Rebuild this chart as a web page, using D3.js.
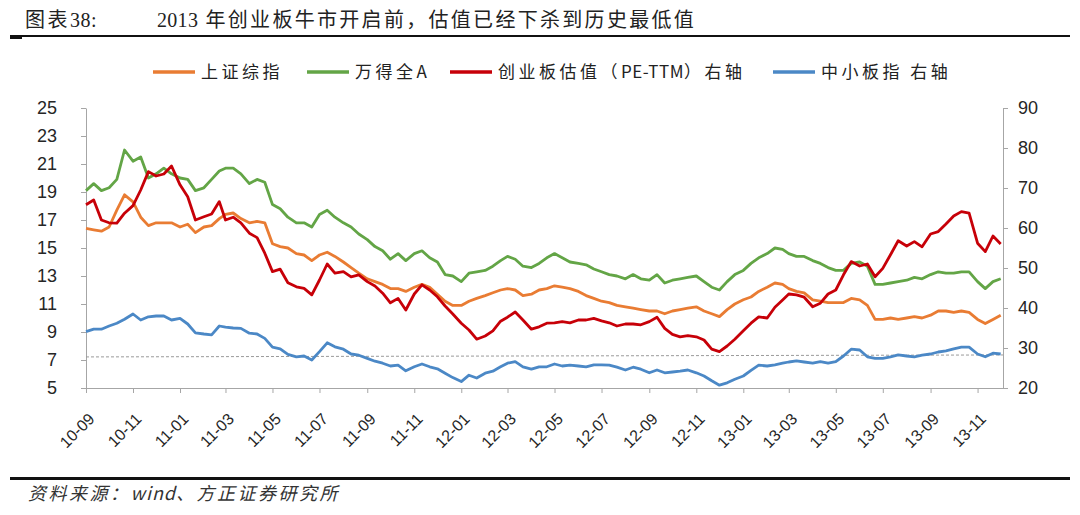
<!DOCTYPE html>
<html>
<head>
<meta charset="utf-8">
<script src="https://cdn.jsdelivr.net/npm/d3@7"></script>
<style>
  body { margin: 0; background: #fff; }
  svg text { font-family: "Liberation Sans", Arial, sans-serif; }
</style>
</head>
<body>
<svg id="chart" width="1080" height="515"></svg>
<script>
// ----------------------------------
// 1) Data (~10-day samples)
// ----------------------------------
const sampleDays = [1, 11, 21];
const dates = d3.timeMonth.range(new Date(2010, 8, 1), new Date(2013, 11, 1))
  .flatMap(m => sampleDays.map(d => new Date(m.getFullYear(), m.getMonth(), d)))
  .concat([new Date(2013, 11, 1)]);

const tickLabels = ["10-09", "10-11", "11-01", "11-03", "11-05", "11-07", "11-09", "11-11",
  "12-01", "12-03", "12-05", "12-07", "12-09", "12-11", "13-01", "13-03", "13-05", "13-07",
  "13-09", "13-11"];

const leftTicks = [5, 7, 9, 11, 13, 15, 17, 19, 21, 23, 25];
const rightTicks = [20, 30, 40, 50, 60, 70, 80, 90];

// 上证综指 (left axis)
const shComposite = [
  16.4, 16.3, 16.2, 16.5, 17.7, 18.8, 18.3, 17.2, 16.6, 16.8,
  16.8, 16.8, 16.5, 16.7, 16.1, 16.5, 16.6, 17.1, 17.4, 17.5,
  17.1, 16.8, 16.9, 16.8, 15.3, 15.1, 15.0, 14.6, 14.5, 14.1,
  14.5, 14.7, 14.4, 14.0, 13.6, 13.2, 12.8, 12.6, 12.4, 12.1,
  12.1, 11.9, 12.2, 12.4, 12.2, 11.7, 11.2, 10.9, 10.9, 11.2,
  11.4, 11.6, 11.8, 12.0, 12.1, 12.0, 11.6, 11.7, 12.0, 12.1,
  12.3, 12.2, 12.1, 11.9, 11.6, 11.4, 11.2, 11.1, 10.9, 10.8,
  10.7, 10.6, 10.5, 10.5, 10.3, 10.5, 10.6, 10.7, 10.8, 10.5,
  10.3, 10.1, 10.6, 11.0, 11.3, 11.5, 11.9, 12.2, 12.5, 12.4,
  12.1, 11.9, 11.8, 11.3, 11.2, 11.1, 11.1, 11.1, 11.4, 11.3,
  10.9, 9.9, 9.9, 10.0, 9.9, 10.0, 10.1, 10.0, 10.2, 10.5,
  10.5, 10.4, 10.5, 10.4, 9.9, 9.6, 9.9, 10.2
];

// 万得全A (left axis)
const windAllA = [
  19.1, 19.6, 19.1, 19.3, 19.9, 22.0, 21.2, 21.5, 20.0, 20.3,
  20.7, 20.3, 20.0, 19.9, 19.1, 19.3, 19.9, 20.5, 20.7, 20.7,
  20.3, 19.6, 19.9, 19.7, 18.1, 17.8, 17.2, 16.8, 16.8, 16.5,
  17.4, 17.7, 17.2, 16.8, 16.5, 16.0, 15.6, 15.1, 14.8, 14.2,
  14.6, 14.1, 14.6, 14.8, 14.3, 14.0, 13.1, 13.0, 12.6, 13.2,
  13.3, 13.4, 13.7, 14.1, 14.4, 14.2, 13.7, 13.6, 13.9, 14.3,
  14.6, 14.3, 14.0, 13.9, 13.8, 13.5, 13.3, 13.1, 13.0, 12.8,
  13.1, 12.8, 12.7, 13.1, 12.5, 12.7, 12.8, 12.9, 13.0, 12.6,
  12.2, 12.0, 12.6, 13.1, 13.4, 13.9, 14.3, 14.6, 15.0, 14.9,
  14.6, 14.4, 14.4, 14.1, 13.9, 13.6, 13.4, 13.4, 13.9, 14.0,
  13.7, 12.4, 12.4, 12.5, 12.6, 12.7, 12.9, 12.8, 13.1, 13.3,
  13.2, 13.2, 13.3, 13.3, 12.6, 12.1, 12.6, 12.8
];

// 创业板估值 PE-TTM (right axis)
const chinextPE = [
  65.8, 67.0, 62.0, 61.3, 61.2, 63.7, 65.6, 69.5, 74.1, 73.0,
  73.5, 75.5, 70.8, 67.8, 62.0, 62.8, 63.5, 66.6, 62.0, 62.7,
  61.3, 58.7, 57.6, 53.7, 49.1, 49.7, 46.3, 45.3, 44.9, 43.3,
  47.0, 51.0, 48.7, 49.1, 47.8, 48.3, 46.6, 45.5, 43.7, 41.3,
  42.4, 39.5, 43.5, 45.8, 44.5, 42.8, 40.5, 38.5, 36.2, 34.5,
  32.2, 33.0, 34.3, 36.7, 37.7, 39.0, 37.0, 34.7, 35.3, 36.2,
  36.3, 36.6, 36.3, 37.0, 37.0, 37.4, 36.8, 36.3, 35.5, 36.0,
  36.0, 35.8, 36.6, 37.7, 34.9, 33.4, 32.8, 33.1, 32.8, 32.0,
  29.7, 29.1, 30.5, 32.2, 34.3, 36.2, 37.8, 37.5, 40.2, 42.0,
  43.5, 43.3, 42.7, 40.3, 41.2, 43.5, 44.5, 48.3, 51.6, 50.5,
  51.0, 47.8, 49.9, 53.3, 56.8, 55.5, 56.6, 55.3, 58.5, 59.1,
  61.0, 63.0, 64.1, 63.7, 56.2, 54.1, 58.0, 56.0
];

// 中小板指 (right axis)
const smeIndex = [
  34.1, 34.7, 34.7, 35.5, 36.2, 37.2, 38.5, 37.0, 37.8, 38.0,
  38.0, 37.0, 37.4, 36.0, 33.8, 33.5, 33.3, 35.5, 35.2, 35.0,
  34.9, 33.7, 33.5, 32.4, 30.2, 29.8, 28.4, 27.8, 28.0, 27.0,
  29.1, 31.3, 30.3, 29.7, 28.5, 28.2, 27.4, 26.7, 26.2, 25.5,
  25.7, 24.3, 25.3, 26.0, 25.3, 24.8, 23.7, 22.6, 21.6, 23.2,
  22.5, 23.7, 24.2, 25.3, 26.2, 26.6, 25.3, 24.7, 25.3, 25.3,
  26.0, 25.5, 25.7, 25.5, 25.3, 25.8, 25.8, 25.7, 25.2, 24.5,
  25.2, 24.7, 23.8, 24.5, 23.8, 24.0, 24.2, 24.5, 23.8, 23.0,
  21.8, 20.7, 21.3, 22.2, 23.0, 24.4, 25.7, 25.5, 25.8, 26.2,
  26.5, 26.8, 26.5, 26.2, 26.6, 26.2, 26.6, 28.0, 29.7, 29.5,
  27.8, 27.4, 27.4, 27.8, 28.3, 28.0, 27.8, 28.2, 28.5, 29.0,
  29.3, 29.8, 30.2, 30.2, 28.5, 27.8, 28.7, 28.5
];

// thin dashed reference line (left axis), start / end
const refLine = [7.22, 7.36];

const seriesNames = ["上证综指", "万得全A", "创业板估值（PE-TTM）右轴", "中小板指 右轴"];
const seriesColors = ["#E97C33", "#63A546", "#C70008", "#4B88C6"];

// ----------------------------------
// 2) Setup SVG and scales
// ----------------------------------
const svg = d3.select("#chart");
const plot = { left: 86, right: 1003, top: 108, bottom: 388 };

const x = d3.scaleTime()
  .domain([new Date(2010, 8, 1), new Date(2013, 11, 4)])
  .range([plot.left, plot.right]);
const yLeft = d3.scaleLinear().domain([5, 25]).range([plot.bottom, plot.top]);
const yRight = d3.scaleLinear().domain([20, 90]).range([plot.bottom, plot.top]);

const axisColor = "#a6a6a6";
const parseTick = d3.timeParse("%y-%m");

// Utility: write mixed text, wide spacing on CJK runs, tight on ascii runs
function spacedText(textSel, str, cjkGap, asciiGap) {
  str.split(/([\x21-\x7E]+)/).filter(p => p.length).forEach(part => {
    const ascii = /^[\x21-\x7E]+$/.test(part);
    textSel.append("tspan")
      .style("letter-spacing", (ascii ? asciiGap : cjkGap) + "px")
      .text(part);
  });
  return textSel;
}

// ----------------------------------
// 3) Header / footer
// ----------------------------------
const titleFont = "'Liberation Serif', 'Noto Sans CJK SC', serif";
spacedText(svg.append("text")
  .attr("x", 25).attr("y", 27)
  .style("font-family", titleFont)
  .style("font-size", "20px").attr("fill", "#222"), "图表38:", 2.5, 0.5);
spacedText(svg.append("text")
  .attr("x", 157).attr("y", 27)
  .style("font-family", titleFont)
  .style("font-size", "20px").attr("fill", "#222"),
  "2013 年创业板牛市开启前，估值已经下杀到历史最低值", 2.3, 0.3);
svg.append("rect").attr("x", 10).attr("y", 35).attr("width", 1060).attr("height", 2).attr("fill", "#111");
svg.append("rect").attr("x", 10).attr("y", 37).attr("width", 12).attr("height", 2).attr("fill", "#111");

svg.append("rect").attr("x", 10).attr("y", 477).attr("width", 1060).attr("height", 3).attr("fill", "#111");
spacedText(svg.append("text")
  .attr("x", 28).attr("y", 500)
  .style("font-family", "'Noto Sans CJK SC', sans-serif")
  .style("font-size", "18px").style("font-style", "italic").attr("fill", "#333"),
  "资料来源：wind、方正证券研究所", 2.5, 1);

// ----------------------------------
// 4) Axes
// ----------------------------------
const gLeft = svg.append("g")
  .attr("transform", `translate(${plot.left},0)`)
  .call(d3.axisLeft(yLeft).tickValues(leftTicks).tickSize(5).tickSizeOuter(0).tickPadding(24));
const gRight = svg.append("g")
  .attr("transform", `translate(${plot.right},0)`)
  .call(d3.axisRight(yRight).tickValues(rightTicks).tickSize(5).tickSizeOuter(0).tickPadding(10));
const gBottom = svg.append("g")
  .attr("transform", `translate(0,${plot.bottom})`)
  .call(d3.axisBottom(x).tickValues(tickLabels.map(parseTick)).tickSize(5).tickSizeOuter(0)
    .tickFormat(d3.timeFormat("%y-%m")));

[gLeft, gRight, gBottom].forEach(g => {
  g.select(".domain").attr("stroke", axisColor);
  g.selectAll(".tick line").attr("stroke", axisColor);
  g.selectAll(".tick text").attr("fill", "#262626")
    .style("font-family", "'Liberation Sans', Arial, sans-serif");
});
gLeft.selectAll(".tick text").style("font-size", "18px");
gRight.selectAll(".tick text").style("font-size", "18px");
gBottom.selectAll(".tick text")
  .style("font-size", "16px")
  .attr("text-anchor", "end")
  .attr("y", 0).attr("dy", "0.35em")
  .attr("transform", "translate(5,28) rotate(-45)");

// ----------------------------------
// 5) Lines
// ----------------------------------
svg.append("line")
  .attr("x1", plot.left).attr("x2", plot.right)
  .attr("y1", yLeft(refLine[0])).attr("y2", yLeft(refLine[1]))
  .attr("stroke", "#9a9a9a").attr("stroke-width", 1)
  .attr("stroke-dasharray", "3,2");

const lineLeft = d3.line().x((d, i) => x(dates[i])).y(d => yLeft(d));
const lineRight = d3.line().x((d, i) => x(dates[i])).y(d => yRight(d));

const series = [
  { values: shComposite, line: lineLeft },
  { values: windAllA, line: lineLeft },
  { values: chinextPE, line: lineRight },
  { values: smeIndex, line: lineRight }
];

series.forEach((s, i) => {
  svg.append("path")
    .datum(s.values)
    .attr("fill", "none")
    .attr("stroke", seriesColors[i])
    .attr("stroke-width", 2.8)
    .attr("stroke-linejoin", "round")
    .attr("d", s.line);
});

// ----------------------------------
// 6) Legend
// ----------------------------------
const legendX = [153, 307, 450, 773];
const legend = svg.append("g").attr("transform", "translate(0,72)");
seriesNames.forEach((name, i) => {
  legend.append("line")
    .attr("x1", legendX[i]).attr("x2", legendX[i] + 42)
    .attr("y1", 0).attr("y2", 0)
    .attr("stroke", seriesColors[i]).attr("stroke-width", 3.5);
  const t = legend.append("text")
    .attr("x", legendX[i] + 48).attr("y", 0).attr("dy", "0.36em")
    .style("font-family", "'Noto Sans CJK SC', sans-serif")
    .style("font-size", "17px")
    .attr("fill", "#222");
  spacedText(t, name, 3.5, 0.5);
});
</script>
</body>
</html>
